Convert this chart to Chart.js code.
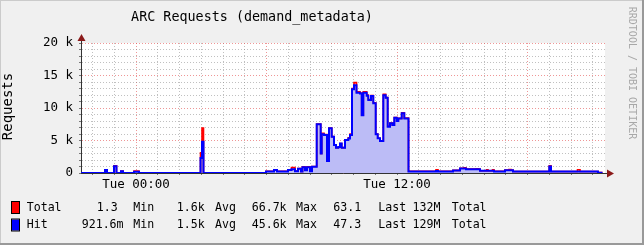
<!DOCTYPE html>
<html>
<head>
<meta charset="utf-8">
<script src="https://cdn.jsdelivr.net/npm/chart.js@4.4.0/dist/chart.umd.min.js"></script>
<style>
  html, body { margin: 0; padding: 0; background: #f0f0f0; }
  canvas { display: block; }
</style>
</head>
<body>
<canvas id="arcChart" width="644" height="245"></canvas>
<script>
// hours since Tue 00:00, each value holds until the next entry (step)
const hours = [
  -2.529, -1.425, -1.333, -1.011, -0.897, -0.690, -0.598, -0.092, 0.138,
  2.966, 3.034, 3.103,
  5.977, 6.345, 6.483, 6.989, 7.149, 7.310, 7.448, 7.586, 7.655, 7.770, 7.862, 8.000, 8.092,
  8.308, 8.492, 8.538, 8.644, 8.782, 8.874, 8.998, 9.103, 9.195, 9.301, 9.379, 9.457, 9.609,
  9.761, 9.839, 9.931, 10.023, 10.138, 10.299, 10.377, 10.451, 10.607, 10.680, 10.805, 10.910,
  11.021, 11.113, 11.218, 11.370, 11.480, 11.572, 11.678, 11.784, 11.876, 11.986, 12.060,
  12.216, 12.336, 12.529,
  13.793, 13.885, 14.575, 14.897, 15.080, 15.172, 15.655, 15.724, 15.816, 16.115, 16.184,
  16.391, 16.460, 16.966, 17.149, 17.241, 17.333, 19.002, 19.080, 20.299, 20.414, 21.241, 21.448
];
const totalReq = [
  20, 470, 20, 1100, 20, 300, 20, 300, 20,
  3100, 6900, 20,
  280, 500, 280, 500, 820, 300, 700, 250, 950, 450, 950, 300, 1000,
  7550, 3000, 6100, 5900, 1850, 6900, 5600, 4300, 3900, 4000, 4550, 3900, 5100,
  5400, 6000, 13000, 13900, 12500, 12300, 8900, 12500, 12000, 11300, 11900, 10800,
  6000, 5350, 4950, 12100, 11600, 7200, 7700, 7400, 8550, 8000, 8400,
  9250, 8450, 280,
  500, 280, 400, 720, 800, 600, 650, 600, 350, 500, 350,
  500, 280, 450, 550, 450, 230, 1100, 230, 500, 230, 63, 63
];
const hitReq = [
  15, 460, 15, 1050, 15, 280, 15, 200, 15,
  2300, 4800, 15,
  250, 480, 250, 480, 570, 280, 650, 230, 900, 420, 900, 280, 950,
  7500, 3000, 5950, 5850, 1850, 6880, 5580, 4300, 3900, 4000, 4550, 3900, 5080,
  5300, 5850, 12900, 13500, 12350, 12250, 8900, 12350, 11900, 11230, 11850, 10720,
  5950, 5330, 4920, 11950, 11580, 7130, 7640, 7380, 8500, 8000, 8400,
  9180, 8400, 250,
  300, 250, 380, 700, 700, 580, 580, 580, 330, 330, 330,
  330, 250, 430, 430, 430, 220, 1000, 220, 250, 220, 47, 47
];

const yTickValues = [0, 5000, 10000, 15000, 20000];
const yTickLabels = ['0', '5 k', '10 k', '15 k', '20 k'];
const xTickValues = [0, 12];
const xTickLabels = ['Tue 00:00', 'Tue 12:00'];

const legendRows = [
  { name: 'Total', color: '#ff0000', stats: ['1.3', 'Min', '1.6k', 'Avg', '66.7k', 'Max', '63.1', 'Last', '132M', 'Total'] },
  { name: 'Hit', color: '#0000ff', stats: ['921.6m', 'Min', '1.5k', 'Avg', '45.6k', 'Max', '47.3', 'Last', '129M', 'Total'] }
];
const statX = [[96.7, 133.3, 176.7, 215, 251.7, 296, 333.3, 378.3, 412.5, 451.7],
               [81.7, 133.3, 176.7, 215, 251.7, 296, 333.3, 378.3, 412.5, 451.7]];

const MONO = '"DejaVu Sans Mono", monospace';
const GRID = 'rgba(130,130,130,0.5)';
const MGRID = 'rgba(228,80,80,0.6)';
const AXIS = '#333333';
const ARROW = '#8b1a1a';

const rrdDecor = {
  id: 'rrdDecor',
  beforeDraw(chart) {
    const { ctx, chartArea: a, width, height } = chart;
    ctx.save();
    ctx.fillStyle = '#f0f0f0';
    ctx.fillRect(0, 0, width, height);
    ctx.fillStyle = '#cbcbcb';
    ctx.fillRect(0, 0, width, 1);
    ctx.fillRect(0, 0, 1, height);
    ctx.fillStyle = '#999999';
    ctx.fillRect(width - 2, 0, 2, height);
    ctx.fillRect(0, height - 2, width, 2);
    ctx.fillStyle = '#ffffff';
    ctx.fillRect(a.left, a.top, a.right - a.left, a.bottom - a.top);
    ctx.restore();
  },
  afterDraw(chart) {
    const { ctx, chartArea: a } = chart;
    ctx.save();
    // title
    ctx.fillStyle = '#000';
    ctx.font = '13.4px ' + MONO;
    ctx.textAlign = 'center';
    ctx.textBaseline = 'middle';
    ctx.fillText('ARC Requests (demand_metadata)', 252, 17.5);

    // vertical unit label
    ctx.save();
    ctx.translate(8, 106.5);
    ctx.rotate(-Math.PI / 2);
    ctx.font = '14px ' + MONO;
    ctx.fillStyle = '#000';
    ctx.fillText('Requests', 0, 0);
    ctx.restore();

    // watermark
    ctx.save();
    ctx.translate(632, 73);
    ctx.rotate(Math.PI / 2);
    ctx.font = '10px ' + MONO;
    ctx.fillStyle = '#a8a8a8';
    ctx.fillText('RRDTOOL / TOBI OETIKER', 0, 0);
    ctx.restore();

    // axis extensions and arrows
    ctx.strokeStyle = AXIS;
    ctx.lineWidth = 1;
    ctx.beginPath();
    ctx.moveTo(a.left + 0.5, a.top);
    ctx.lineTo(a.left + 0.5, a.top - 4);
    ctx.moveTo(a.right, a.bottom + 0.5);
    ctx.lineTo(a.right + 3, a.bottom + 0.5);
    ctx.stroke();
    ctx.fillStyle = ARROW;
    ctx.beginPath();
    ctx.moveTo(a.left + 0.5, a.top - 9);
    ctx.lineTo(a.left - 3.5, a.top - 2);
    ctx.lineTo(a.left + 4.5, a.top - 2);
    ctx.closePath();
    ctx.fill();
    ctx.beginPath();
    ctx.moveTo(a.right + 9, a.bottom + 0.5);
    ctx.lineTo(a.right + 2, a.bottom - 3.5);
    ctx.lineTo(a.right + 2, a.bottom + 4.5);
    ctx.closePath();
    ctx.fill();

    // legend
    ctx.font = '11.6px ' + MONO;
    ctx.textAlign = 'left';
    ctx.textBaseline = 'middle';
    legendRows.forEach((row, i) => {
      const y = 207.5 + i * 17.5;
      ctx.fillStyle = row.color;
      ctx.fillRect(12, y - 5.5, 7, 11);
      ctx.strokeStyle = '#000';
      ctx.strokeRect(11.5, y - 6, 8, 12);
      ctx.fillStyle = '#000';
      ctx.fillText(row.name, 26.7, y);
      row.stats.forEach((s, j) => ctx.fillText(s, statX[i][j], y));
    });
    ctx.restore();
  }
};

new Chart(document.getElementById('arcChart'), {
  type: 'line',
  data: {
    datasets: [
      {
        label: 'Hit',
        data: hours.map((h, i) => ({ x: h, y: hitReq[i] })),
        borderColor: '#0000ff',
        backgroundColor: '#bcbcf6',
        borderWidth: 2,
        fill: 'origin',
        stepped: true,
        pointRadius: 0,
        order: 1
      },
      {
        label: 'Total',
        data: hours.map((h, i) => ({ x: h, y: totalReq[i] })),
        borderColor: '#ff0000',
        borderWidth: 1.6,
        fill: false,
        stepped: true,
        pointRadius: 0,
        order: 2
      }
    ]
  },
  options: {
    responsive: false,
    animation: false,
    layout: { padding: { top: 43, right: 39, bottom: 52, left: 0 } },
    plugins: {
      legend: { display: false },
      tooltip: { enabled: false },
      filler: { drawTime: 'beforeDatasetsDraw' }
    },
    scales: {
      x: {
        type: 'linear',
        min: -2.529,
        max: 21.563,
        afterFit: s => { s.height = 20; },
        ticks: {
          stepSize: 1,
          includeBounds: false,
          autoSkip: false,
          maxRotation: 0,
          padding: 2,
          color: '#000',
          font: { family: MONO, size: 12.5 },
          callback: v => {
            const k = xTickValues.indexOf(v);
            return k >= 0 ? xTickLabels[k] : '';
          }
        },
        grid: {
          color: c => (c.tick && Math.abs(c.tick.value % 6) < 1e-6) ? MGRID : GRID,
          tickColor: '#777',
          tickLength: 2
        },
        border: { color: AXIS, dash: [1, 2] }
      },
      y: {
        min: 0,
        max: 20000,
        afterFit: s => { s.width = 81; },
        ticks: {
          stepSize: 1000,
          autoSkip: false,
          padding: 6,
          color: '#000',
          font: { family: MONO, size: 12.5 },
          callback: v => {
            const k = yTickValues.indexOf(v);
            return k >= 0 ? yTickLabels[k] : '';
          }
        },
        grid: {
          color: c => (c.tick && c.tick.value % 5000 === 0) ? MGRID : GRID,
          tickColor: '#777',
          tickLength: 2
        },
        border: { color: AXIS, dash: [1, 2] }
      }
    }
  },
  plugins: [rrdDecor]
});
</script>
</body>
</html>
